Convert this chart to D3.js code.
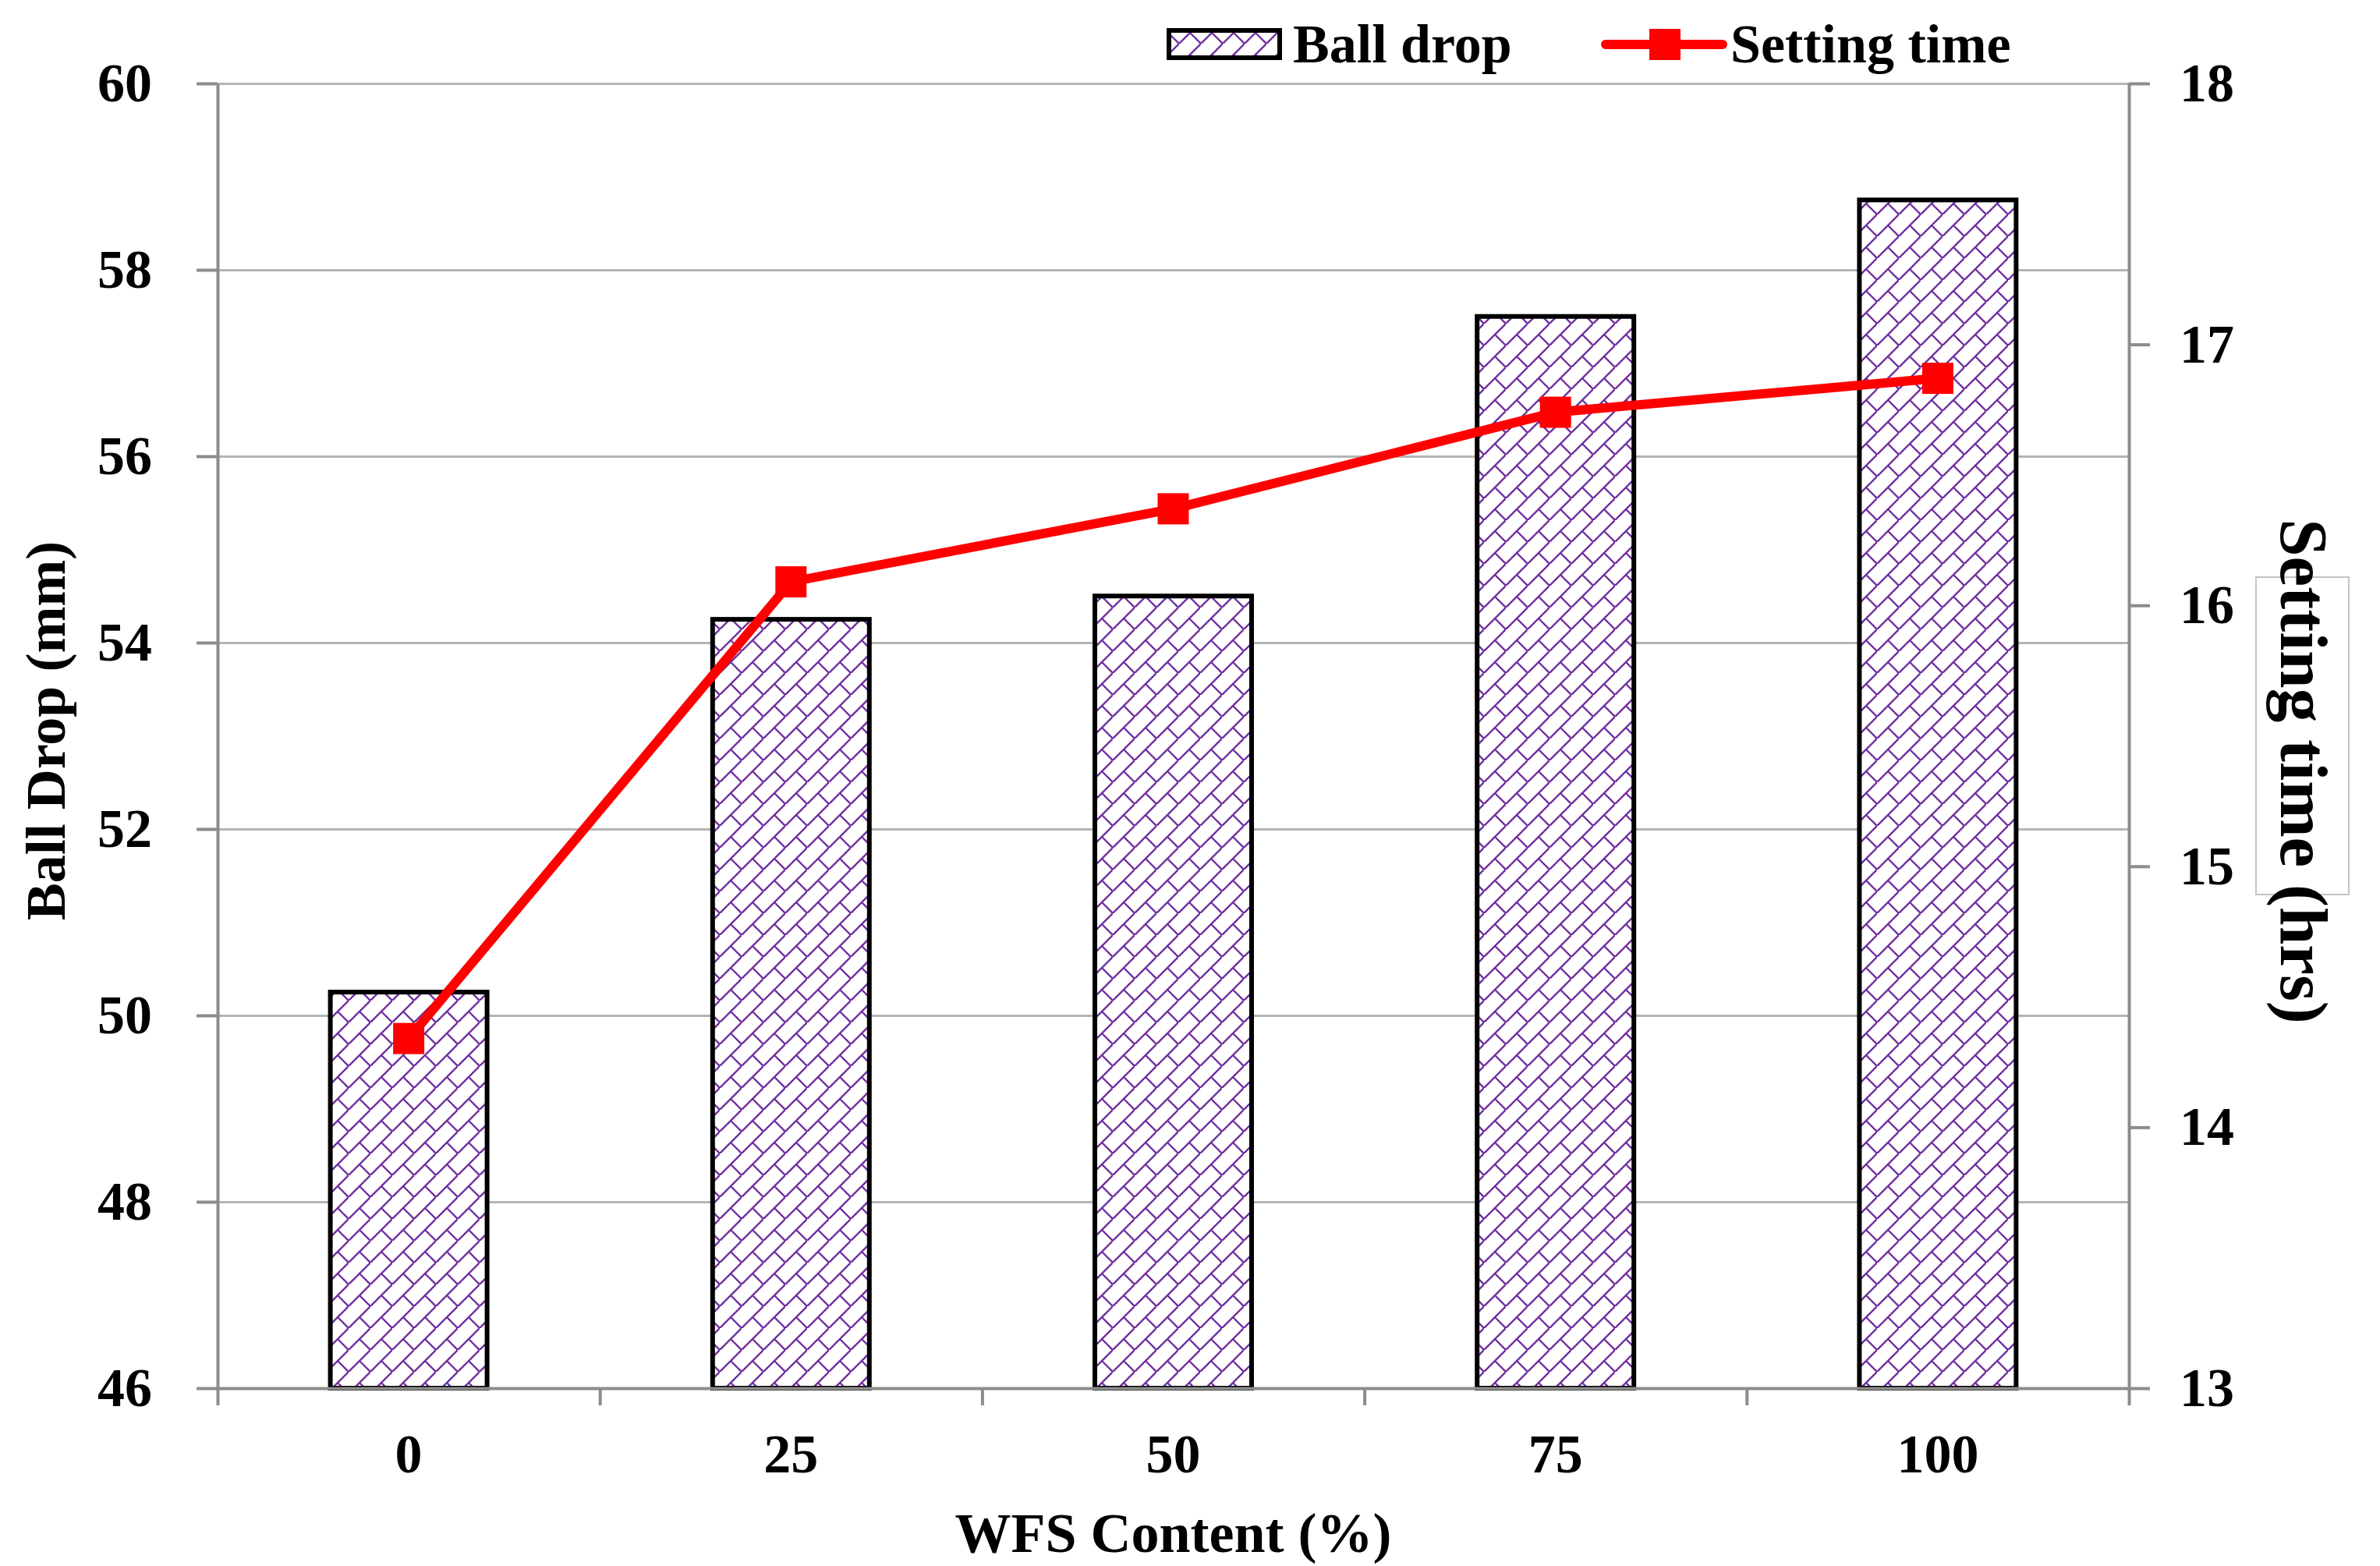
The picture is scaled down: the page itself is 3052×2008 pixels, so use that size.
<!DOCTYPE html>
<html>
<head>
<meta charset="utf-8">
<script src="https://cdn.jsdelivr.net/npm/d3@7"></script>
<style>
  body { margin: 0; background: #fff; }
  text { font-family: "Liberation Serif", "Times New Roman", serif; font-weight: bold; fill: #000; }
</style>
</head>
<body>
<div id="chart"></div>
<script>
// data
const categories = ['0', '25', '50', '75', '100']
const ballDrop = [50.25, 54.25, 54.5, 57.5, 58.75]
const settingTime = [14.34, 16.09, 16.37, 16.74, 16.87]
const leftTicks = [46, 48, 50, 52, 54, 56, 58, 60]
const rightTicks = [13, 14, 15, 16, 17, 18]

const width = 3052
const height = 2008
const padding = { left: 279, top: 107, right: 322, bottom: 228 }
const chartWidth = width - padding.left - padding.right
const chartHeight = height - padding.top - padding.bottom

const axisColor = '#8c8c8c'
const gridColor = '#b4b4b4'
const hatchColor = '#7030a0'
const lineColor = '#ff0000'

const svg = d3.select('#chart').append('svg')
    .attr('width', width)
    .attr('height', height)

// diagonal brick hatch
const tile = 28
const pattern = svg.append('defs').append('pattern')
    .attr('id', 'brick')
    .attr('patternUnits', 'userSpaceOnUse')
    .attr('width', tile)
    .attr('height', tile)
pattern.append('rect').attr('width', tile).attr('height', tile).attr('fill', '#fff')
pattern.append('path')
    .attr('d', `M-2,${tile + 2}L${tile + 2},-2M${tile / 2},${tile / 2}L${tile},${tile}`)
    .attr('stroke', hatchColor)
    .attr('stroke-width', 2.4)
    .attr('fill', 'none')

const chart = svg.append('g')
    .attr('transform', `translate(${padding.left}, ${padding.top})`)

const xScale = d3.scaleBand()
    .domain(categories)
    .range([0, chartWidth])
    .paddingInner(0.59)
    .paddingOuter(0.295)

const xEdges = d3.scaleLinear()
    .domain([0, categories.length])
    .range([0, chartWidth])

const yLeft = d3.scaleLinear()
    .domain([46, 60])
    .range([chartHeight, 0])

const yRight = d3.scaleLinear()
    .domain([13, 18])
    .range([chartHeight, 0])

// gridlines
chart.append('g')
    .attr('class', 'grid')
    .call(d3.axisLeft(yLeft).tickValues(leftTicks.slice(1)).tickSize(-chartWidth).tickFormat(''))
    .call(g => g.select('.domain').remove())
    .call(g => g.selectAll('line').attr('stroke', gridColor).attr('stroke-width', 3))

// bars
chart.selectAll('rect.bar')
    .data(ballDrop)
  .enter().append('rect')
    .attr('class', 'bar')
    .attr('x', (d, i) => xScale(categories[i]))
    .attr('y', d => yLeft(d))
    .attr('width', xScale.bandwidth())
    .attr('height', d => chartHeight - yLeft(d))
    .attr('fill', 'url(#brick)')
    .attr('stroke', '#000')
    .attr('stroke-width', 6)

function styleAxis(g) {
  g.select('.domain').attr('stroke', axisColor).attr('stroke-width', 4)
  g.selectAll('.tick line').attr('stroke', axisColor).attr('stroke-width', 4)
  g.selectAll('text').attr('font-size', 70)
}

// left axis
chart.append('g')
    .call(d3.axisLeft(yLeft).tickValues(leftTicks).tickSize(27).tickPadding(57).tickSizeOuter(0))
    .call(styleAxis)

// right axis
chart.append('g')
    .attr('transform', `translate(${chartWidth}, 0)`)
    .call(d3.axisRight(yRight).tickValues(rightTicks).tickFormat(d3.format('d'))
      .tickSize(27).tickPadding(38).tickSizeOuter(0))
    .call(styleAxis)

// bottom axis: boundary ticks
chart.append('g')
    .attr('transform', `translate(0, ${chartHeight})`)
    .call(d3.axisBottom(xEdges).tickValues(d3.range(categories.length + 1)).tickSize(22).tickFormat('').tickSizeOuter(0))
    .call(styleAxis)

// bottom axis: category labels
chart.append('g')
    .attr('transform', `translate(0, ${chartHeight})`)
    .call(d3.axisBottom(xScale).tickSize(0).tickPadding(58))
    .call(g => g.select('.domain').remove())
    .call(g => g.selectAll('text').attr('font-size', 70))

// setting time line
const line = d3.line()
    .x((d, i) => xScale(categories[i]) + xScale.bandwidth() / 2)
    .y(d => yRight(d))

chart.append('path')
    .datum(settingTime)
    .attr('d', line)
    .attr('fill', 'none')
    .attr('stroke', lineColor)
    .attr('stroke-width', 12)
    .attr('stroke-linejoin', 'round')
    .attr('stroke-linecap', 'round')

const markerSize = 40
chart.selectAll('rect.marker')
    .data(settingTime)
  .enter().append('rect')
    .attr('class', 'marker')
    .attr('x', (d, i) => xScale(categories[i]) + xScale.bandwidth() / 2 - markerSize / 2)
    .attr('y', d => yRight(d) - markerSize / 2)
    .attr('width', markerSize)
    .attr('height', markerSize)
    .attr('fill', lineColor)

// axis titles
svg.append('text')
    .attr('transform', `translate(${padding.left + chartWidth / 2}, 1990)`)
    .attr('text-anchor', 'middle')
    .attr('font-size', 72)
    .text('WFS Content (%)')

svg.append('text')
    .attr('transform', 'translate(83, 937) rotate(-90)')
    .attr('text-anchor', 'middle')
    .attr('font-size', 72)
    .text('Ball Drop (mm)')

// stray frame box behind the right title in the source
svg.append('rect')
    .attr('x', 2893).attr('y', 740)
    .attr('width', 119).attr('height', 407)
    .attr('fill', 'none')
    .attr('stroke', '#c4c4c4')
    .attr('stroke-width', 2)

svg.append('text')
    .attr('transform', 'translate(2925, 989) rotate(90)')
    .attr('text-anchor', 'middle')
    .attr('font-size', 87)
    .text('Setting time (hrs)')

// legend
const legend = svg.append('g')
legend.append('rect')
    .attr('x', 1499).attr('y', 39)
    .attr('width', 142).attr('height', 35)
    .attr('fill', 'url(#brick)')
    .attr('stroke', '#000')
    .attr('stroke-width', 6)
legend.append('text')
    .attr('x', 1658).attr('y', 80)
    .attr('font-size', 70)
    .text('Ball drop')
legend.append('line')
    .attr('x1', 2059).attr('x2', 2209)
    .attr('y1', 57).attr('y2', 57)
    .attr('stroke', lineColor)
    .attr('stroke-width', 12)
    .attr('stroke-linecap', 'round')
legend.append('rect')
    .attr('x', 2135 - markerSize / 2).attr('y', 57 - markerSize / 2)
    .attr('width', markerSize).attr('height', markerSize)
    .attr('fill', lineColor)
legend.append('text')
    .attr('x', 2219).attr('y', 80)
    .attr('font-size', 70)
    .text('Setting time')
</script>
</body>
</html>
